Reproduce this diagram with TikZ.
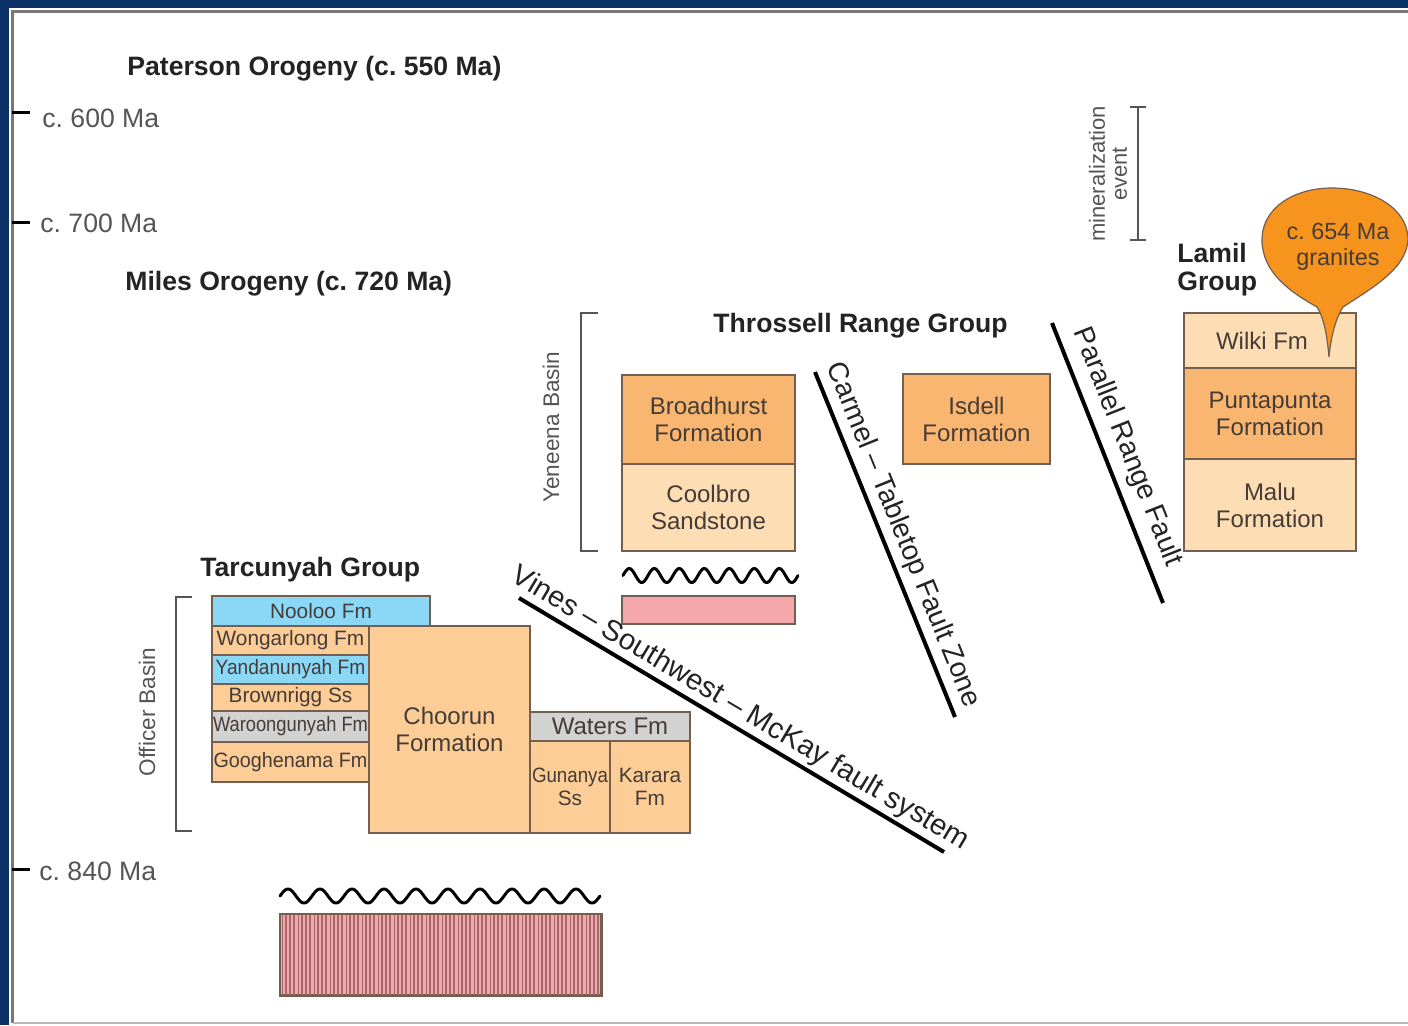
\documentclass[tikz,border=0pt]{standalone}
\usepackage{graphicx}
\usepackage{fontspec}
\setmainfont{Liberation Sans}
\definecolor{navy}{RGB}{10,50,102}
\definecolor{frameg}{RGB}{120,120,120}
\definecolor{orgm}{RGB}{249,182,112}
\definecolor{orgl}{RGB}{253,221,180}
\definecolor{orgt}{RGB}{252,205,150}
\definecolor{skyb}{RGB}{138,216,246}
\definecolor{lgray}{RGB}{210,210,210}
\definecolor{pinkc}{RGB}{245,168,172}
\definecolor{stripe}{RGB}{165,105,110}
\definecolor{bubble}{RGB}{247,148,30}
\definecolor{boxline}{RGB}{115,95,80}
\definecolor{boxtext}{RGB}{70,60,55}
\definecolor{axcol}{RGB}{85,85,85}
\definecolor{hdrcol}{RGB}{35,35,35}
\begin{document}
\begin{tikzpicture}[x=0.5pt,y=-0.5pt,
  fm/.style={draw=boxline,line width=0.75pt,inner sep=0pt,align=center,text=boxtext,font=\fontsize{12}{13.5}\selectfont},
  fms/.style={fm,font=\fontsize{10.4}{12}\selectfont},
  hdr/.style={anchor=base west,inner sep=0pt,text=hdrcol,font=\fontsize{13.3}{15}\selectfont\bfseries},
  axl/.style={anchor=base west,inner sep=0pt,text=axcol,font=\fontsize{13.3}{15}\selectfont},
  fault/.style={line width=2pt,black},
  faultlbl/.style={inner sep=0pt,text=hdrcol,font=\fontsize{14}{16}\selectfont},
  brk/.style={draw=axcol,line width=1pt},
  brklbl/.style={rotate=90,inner sep=0pt,text=axcol,font=\fontsize{11.3}{13}\selectfont},
  wave/.style={line width=1.5pt,black,line cap=round},
  tick/.style={line width=1.5pt,black}
]
% frame
\fill[navy] (0,0) rectangle (1408,1025);
\fill[white] (9,8) rectangle (1408,1025);
\useasboundingbox (0,0) rectangle (1408,1025);
\draw[frameg,line width=1.5pt] (11,11) -- (1408,11);
\draw[frameg,line width=1.5pt] (12.5,11) -- (12.5,1023);
\draw[lgray!70!gray,line width=1pt] (12.5,1023) -- (1408,1023);

% time axis ticks
\coordinate (t1a) at (12,112); \coordinate (t1b) at (30,112);
\coordinate (t2a) at (12,222); \coordinate (t2b) at (30,222);
\coordinate (t3a) at (12,869); \coordinate (t3b) at (30,869);
\draw[tick] (t1a) -- (t1b);
\draw[tick] (t2a) -- (t2b);
\draw[tick] (t3a) -- (t3b);
\node[axl] (l600) at (42,127) {c.\ 600 Ma};
\node[axl] (l700) at (40,232) {c.\ 700 Ma};
\node[axl] (l840) at (39,880) {c.\ 840 Ma};

% headers
\node[hdr] (pat) at (127,75) {Paterson Orogeny (c.\ 550 Ma)};
\node[hdr] (mil) at (125,290) {Miles Orogeny (c.\ 720 Ma)};
\node[hdr] (thr) at (713,332) {Throssell Range Group};
\node[hdr] (tar) at (200,576) {Tarcunyah Group};
\node[hdr] (lam1) at (1177,262) {Lamil};
\node[hdr] (lam2) at (1177,290) {Group};

% mineralization event
\draw[brk] (1130,107) -- (1146,107) (1138,107) -- (1138,240) (1130,240) -- (1146,240);
\node[brklbl,align=center,font=\fontsize{11}{11}\selectfont] (minl) at (1108,174) {mineralization\\event};

% Lamil group
\node[fm,fill=orgl,minimum width=86pt,minimum height=27.5pt] (wilki) at (1270,340.5) {Wilki Fm\hspace{8pt}};
\node[fm,fill=orgm,minimum width=86pt,minimum height=45.5pt] (punta) at (1270,413.5) {Puntapunta\\Formation};
\node[fm,fill=orgl,minimum width=86pt,minimum height=46pt] (malu) at (1270,505) {Malu\\Formation};

% granite bubble
\filldraw[fill=bubble,draw=boxline,line width=0.6pt]
  (1329,357) .. controls (1327,335) and (1324,318) .. (1317,307)
  .. controls (1290,292) and (1262,272) .. (1262,240)
  .. controls (1262,207) and (1295,188) .. (1332,188)
  .. controls (1372,188) and (1407,208) .. (1408,238)
  .. controls (1408,268) and (1372,288) .. (1343,307)
  .. controls (1336,318) and (1331,335) .. (1329,357) -- cycle;
\node[inner sep=0pt,align=center,text=boxtext,font=\fontsize{11.7}{13}\selectfont] (gran) at (1338,247) {c.\ 654 Ma\\granites};

% Throssell Range Group
\node[fm,fill=orgm,minimum width=86.5pt,minimum height=44.5pt] (broad) at (708.5,419.5) {Broadhurst\\Formation};
\node[fm,fill=orgl,minimum width=86.5pt,minimum height=43.5pt] (cool) at (708.5,507.5) {Coolbro\\Sandstone};
\node[fm,fill=orgm,minimum width=73.5pt,minimum height=45pt] (isd) at (976.5,419) {Isdell\\Formation};
\draw[wave] plot[domain=0:7,samples=211,smooth] ({623+25*\x},{575.5-7*sin(360*\x)});
\node[fm,fill=pinkc,minimum width=86.5pt,minimum height=14pt] (pinkb) at (708.5,610) {};
\draw[brk] (598,313) -- (581,313) -- (581,551) -- (598,551);
\node[brklbl] (yen) at (551,427) {Yeneena Basin};

% Tarcunyah Group
\node[fms,fill=skyb,minimum width=109pt,minimum height=15pt] (noo) at (321,611) {Nooloo Fm};
\node[fms,fill=orgt,minimum width=78.5pt,minimum height=14.5pt] (won) at (290.5,640.5) {Wongarlong Fm};
\node[fms,fill=skyb,minimum width=78.5pt,minimum height=14.5pt] (yan) at (290.5,669.5) {\scalebox{0.92}[1]{Yandanunyah Fm}};
\node[fms,fill=orgt,minimum width=78.5pt,minimum height=13.5pt] (bro) at (290.5,697.5) {Brownrigg Ss};
\node[fms,fill=lgray,minimum width=78.5pt,minimum height=15.5pt] (war) at (290.5,726.5) {\scalebox{0.88}[1]{Waroongunyah Fm}};
\node[fms,fill=orgt,minimum width=78.5pt,minimum height=20pt] (goo) at (290.5,762) {\scalebox{0.95}[1]{Googhenama Fm}};
\node[fm,fill=orgt,minimum width=80.5pt,minimum height=103.5pt] (cho) at (449.5,729.5) {Choorun\\Formation};
\node[fm,fill=lgray,minimum width=80pt,minimum height=14.5pt] (wat) at (610,726.5) {Waters Fm};
\node[fm,fill=orgt,font=\fontsize{10.4}{11.5}\selectfont,minimum width=40pt,minimum height=46pt] (gun) at (570,787) {\scalebox{0.9}[1]{Gunanya}\\Ss};
\node[fm,fill=orgt,font=\fontsize{10.4}{11.5}\selectfont,minimum width=40pt,minimum height=46pt] (kar) at (650,787) {Karara\\Fm};
\draw[brk] (192,597) -- (176,597) -- (176,831) -- (192,831);
\node[brklbl] (off) at (147,712) {Officer Basin};

% basement
\draw[wave] plot[domain=0:10,samples=301,smooth] ({280+32*\x},{896-7*sin(360*\x)});
\node[draw=boxline,line width=0.75pt,fill=pinkc,minimum width=160.5pt,minimum height=40.5pt,inner sep=0pt] (strb) at (440.5,954.5) {};
\begin{scope}
  \clip (281,915) rectangle (600,994);
  \foreach \i in {0,...,80} {
    \pgfmathsetmacro\w{0.35+0.3*mod(\i*7,4)}
    \draw[stripe,line width=\w pt] ({282+4*\i},914) -- ({282+4*\i},995);
  }
\end{scope}
\draw[boxline,line width=0.75pt] (strb.north west) rectangle (strb.south east);

% faults
\coordinate (vA) at (519,598); \coordinate (vB) at (944,852);
\draw[fault] (vA) -- (vB);
\node[faultlbl,rotate=-30.8,font=\fontsize{14.6}{16}\selectfont] (vlbl) at (740,709) {Vines -- Southwest -- McKay fault system};
\coordinate (cA) at (815,372); \coordinate (cB) at (955,717);
\draw[fault] (cA) -- (cB);
\node[faultlbl,rotate=-67.9] (clbl) at (903,535) {Carmel -- Tabletop Fault Zone};
\coordinate (pA) at (1052,323); \coordinate (pB) at (1163,603);
\draw[fault] (pA) -- (pB);
\node[faultlbl,rotate=-68.4] (plbl) at (1127,447) {Parallel Range Fault};
\end{tikzpicture}
\end{document}
